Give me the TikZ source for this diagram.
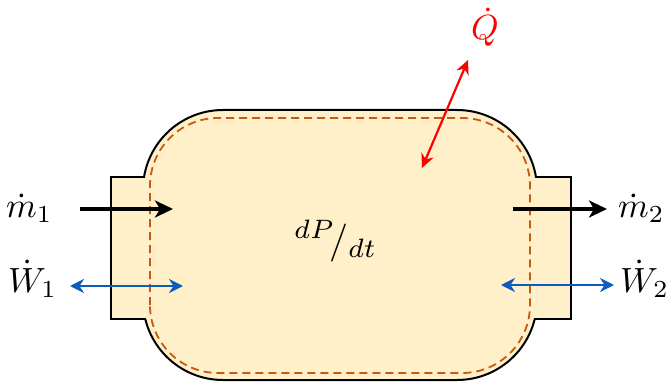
\documentclass[tikz,border=0pt]{standalone}
\usetikzlibrary{arrows.meta}
\definecolor{bodyfill}{HTML}{FFF0C9}
\definecolor{dashc}{HTML}{C55A11}
\definecolor{wblue}{HTML}{0B5CBF}
\definecolor{qred}{HTML}{FF0000}
\newcommand{\bigmath}[1]{\scalebox{3.5}{$#1$}}
\begin{document}
\begin{tikzpicture}[x=1pt,y=1pt,
  lbl/.style={inner sep=0pt, anchor=base west},
  outline/.style={line width=2pt, black},
  massflow/.style={line width=3.2pt, -{Stealth[length=18pt,width=17pt,inset=5pt]}},
  workflow/.style={wblue, line width=2.2pt, {Stealth[length=14pt,width=14pt,inset=4.5pt]}-{Stealth[length=14pt,width=14pt,inset=4.5pt]}},
  heatflow/.style={qred, line width=2.2pt, {Stealth[length=14pt,width=13pt,inset=4.5pt]}-{Stealth[length=14pt,width=13pt,inset=4.5pt]}}
  ]
\useasboundingbox (0,0) rectangle (669,389);
% fills
\fill[bodyfill, rounded corners=80pt] (143,9) rectangle (537,279);
\fill[bodyfill] (111,70) rectangle (146,212);
\fill[bodyfill] (534,70) rectangle (571,212);
% body outline (outside the flange band)
\begin{scope}
  \clip (0,212) rectangle (669,389);
  \draw[outline, rounded corners=80pt] (143,9) rectangle (537,279);
\end{scope}
\begin{scope}
  \clip (0,0) rectangle (669,70);
  \draw[outline, rounded corners=80pt] (143,9) rectangle (537,279);
\end{scope}
% flange outlines
\draw[outline, line join=miter] (144.8,212) -- (111,212) -- (111,70) -- (146,70);
\draw[outline, line join=miter] (535.2,212) -- (571,212) -- (571,70) -- (534,70);
% control surface
\draw[dashc, line width=1.8pt, dash pattern=on 8pt off 5pt, rounded corners=68pt] (150,16) rectangle (530,271);
% labels
\node[lbl] (m1) at (6,172) {\bigmath{\dot m_1}};
\node[lbl] (W1) at (8,97) {\bigmath{\dot W_1}};
\node[lbl] (m2) at (618,172) {\bigmath{\dot m_2}};
\node[lbl] (W2) at (620,97) {\bigmath{\dot W_2}};
\node[lbl, text=qred] (Q) at (471,349) {\bigmath{\dot Q}};
\node[lbl] (rate) at (294,137) {\scalebox{3.8}{$^{dP}\!/_{dt}$}};
% arrow ends
\coordinate (m1s) at (80,180);
\coordinate (m1e) at (173,180);
\coordinate (m2s) at (513,180);
\coordinate (m2e) at (607,180);
\coordinate (w1s) at (70,103);
\coordinate (w1e) at (183,103);
\coordinate (w2s) at (501,104);
\coordinate (w2e) at (614,104);
\coordinate (qs) at (422,221);
\coordinate (qe) at (468,329);
% arrows
\draw[massflow] (m1s) -- (m1e);
\draw[massflow] (m2s) -- (m2e);
\draw[workflow] (w1s) -- (w1e);
\draw[workflow] (w2s) -- (w2e);
\draw[heatflow] (qs) -- (qe);
\end{tikzpicture}
\end{document}
